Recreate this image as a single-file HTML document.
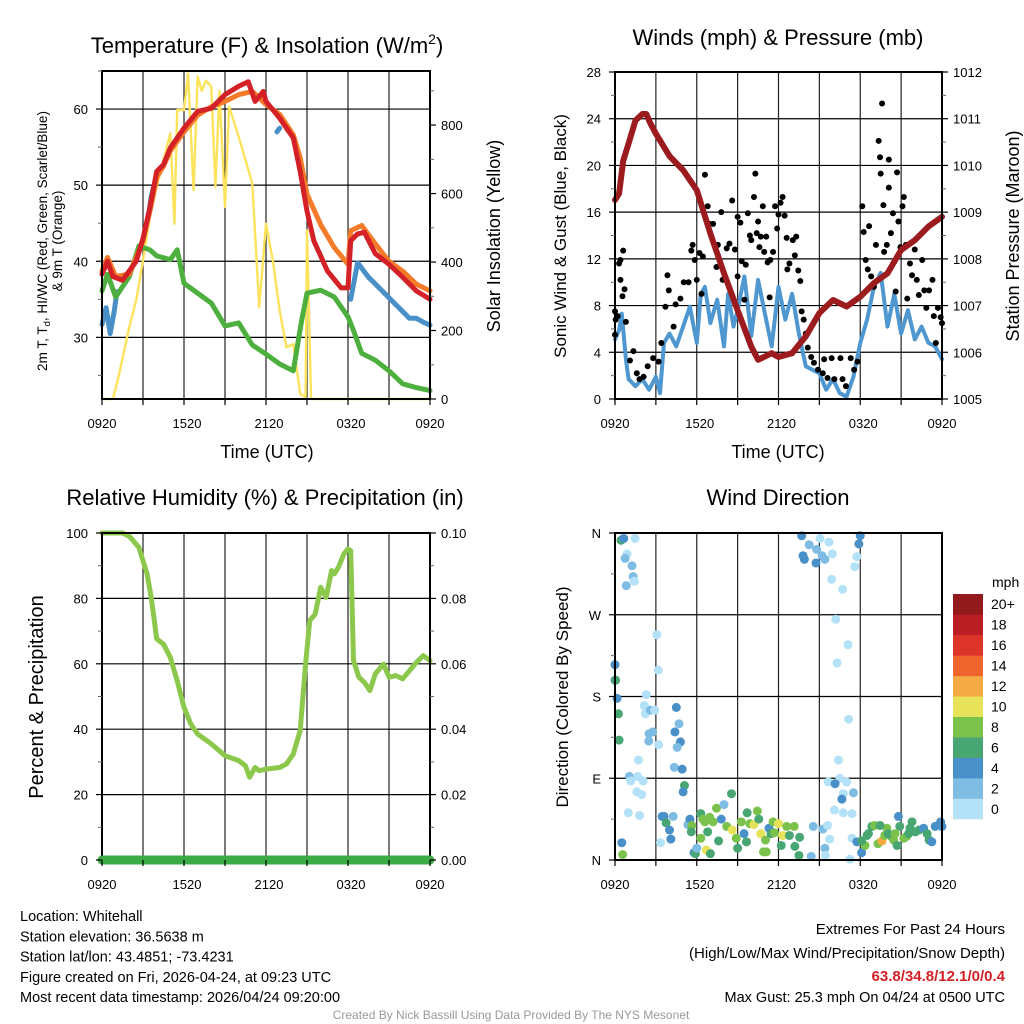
<!DOCTYPE html>
<html><head><meta charset="utf-8"><style>
html,body{margin:0;padding:0;background:#fff;}
svg{display:block;font-family:"Liberation Sans",Arial,sans-serif;}
</style></head><body>
<svg id="c" width="1024" height="1024" viewBox="0 0 1024 1024" xmlns="http://www.w3.org/2000/svg"></svg>
<script>
// ---------- DATA (hours after 0920 UTC) ----------
const tempRedH=[0,0.4,0.8,1.5,2.5,3,3.5,4,4.5,5,6,7,8,9,10,10.7,11.2,11.8,12,13,14,14.5,15,15.5,16.5,17.5,18,18.2,18.7,19.2,20,21,22,23,24];
const tempRedV=[38.3,40,38,37.5,40,43,47,51.8,52.7,54.9,57.5,59.7,60.1,61.9,63,63.6,61,62.3,61,58.8,56.2,51.8,46.6,42.7,38.7,36.5,36.5,42.7,43.6,43.8,41,39.6,37.9,36.1,35];
const tempOrH=[0,0.4,1,2,3,3.5,4,4.5,5,6,7,8,9,10,11,12,13,14,14.5,15,16,17,18,18.2,19,20,21,22,23,24];
const tempOrV=[38.7,40.5,38,38.3,42.7,46.5,51,52.5,54.5,57,59.2,60.3,61,61.9,62.3,60.6,59.3,56.6,53.6,48.8,44.8,41.8,39.6,44,44.7,42.3,40,38.7,37,36.1];
const tempBlH1=[0,0.3,0.6,0.9,1.1];
const tempBlV1=[31.7,33.9,30.5,33.5,36];
const tempBlH2=[3.4,3.6,3.8];
const tempBlV2=[46,48.5,50];
const tempBlH3=[12.8,13];
const tempBlV3=[57,57.5];
const tempBlH4=[18.2,18.7,19.5,20.5,21.5,22.5,23,23.5,24];
const tempBlV4=[35,39.8,37.9,36.1,34.3,32.5,32.5,32,31.6];
const dewH=[0,0.4,1,2,2.7,3.5,4,5,5.5,6,7,8,9,10,11,12,13,14,14.6,15,16,17,18,18.4,19,20,21,22,23,24];
const dewV=[36.1,38.3,35.3,38,42,41.5,40.7,40.2,41.5,37.1,35.8,34.5,31.5,31.9,29,27.8,26.5,25.6,32.1,35.8,36.2,35.3,32.7,30.9,27.9,27,25.6,23.9,23.4,23];
const solH=[0,0.8,1.2,2,2.5,3,3.5,4,4.5,5,5.3,5.5,6,6.3,6.7,7,7.3,7.6,8,8.3,8.6,9,9.3,10,10.5,11,11.5,12,12.5,13,13.5,14,14.5,14.9,15,15.3,24];
const solV=[0,0,63,210,288,405,532,620,698,776,512,844,844,951,610,942,900,930,912,620,900,561,854,766,698,629,268,512,405,258,151,161,15,5,492,0,0];
// winds & pressure
const presH=[0,0.3,0.6,1,1.5,2,2.3,2.6,3,4,5,6,7,8,9,10,10.5,11.5,12,13,14,15,16,17,18,19,20,21,22,23,24];
const presV=[1009.26,1009.4,1010.1,1010.47,1010.96,1011.1,1011.1,1010.9,1010.68,1010.2,1009.9,1009.47,1008.54,1007.69,1006.9,1006.12,1005.84,1005.98,1005.9,1005.98,1006.34,1006.84,1007.12,1006.98,1007.19,1007.48,1007.69,1008.19,1008.4,1008.69,1008.9];
const windH=[0,0.3,0.5,0.8,1,1.5,2,2.5,3,3.3,3.6,4,4.5,5,5.5,6,6.3,6.6,7,7.5,8,8.3,8.7,9,9.5,10,10.5,11,11.5,12,12.5,13,13.5,14,15,15.5,16,16.5,17,17.5,18,18.5,19,19.5,20,20.5,21,21.5,22,22.5,23,23.5,24];
const windV=[5.1,5.9,7.3,3.4,1.7,1.1,1.7,0.8,1.9,0.5,4.8,5.6,4.5,6.2,7.9,4.8,9,9.6,6.5,8.5,4.5,9,6.2,7.6,10.5,5.4,10.2,7.3,4.5,9.6,6.8,9,5.6,2.8,2.2,0.8,1.7,0.5,0.2,1.9,4.8,6.8,9.6,10.8,6.2,9,5.6,7.6,5.1,6.2,4.8,4.5,3.4];
const gustH=[0,0.05,0.2,0.6,0.4,0.3,0.4,0.7,0.55,0.8,0,1.1,1.35,1.6,1.8,2.1,2.4,2.8,3.2,3.4,3.7,3.85,3.95,4.3,4.45,4.8,5.05,5.4,5.6,5.7,5.85,6,6.2,6.35,6.45,6.6,6.8,6.95,7.2,7.45,7.55,7.8,7.9,8.2,8.4,8.6,8.8,9,9,9.2,9.3,9.5,9.6,9.75,9.9,10,10.2,10.3,10.4,10.5,10.6,10.7,10.85,10.95,11.1,11.2,11.35,11.4,11.6,11.75,11.9,12,12.15,12.3,12.45,12.6,12.65,12.8,13.05,13.2,13.3,13.45,13.6,13.7,13.85,14,14.15,14.4,14.6,14.9,15.25,15.35,15.6,15.9,16.1,16.55,16.7,16.95,17.3,17.55,17.8,18.15,18.25,18.4,18.55,18.65,18.8,19,19.15,19.35,19.45,19.5,19.6,19.7,19.75,19.95,20.1,20.1,20.25,20.4,20.6,20.7,20.8,20.95,21.1,21.2,21.35,21.45,21.65,21.8,22,22.15,22.3,22.55,22.7,22.85,23.05,23.3,23.4,23.55,23.7,23.9,24];
const gustV=[7.5,6.8,7.1,12.7,11.9,11.6,10.2,9.4,8.8,6.6,5.5,3.3,4.1,2.2,1.7,1.9,2.8,3.5,3.2,4.8,7.9,10.6,9.3,6.2,8.1,8.6,10,10,12.7,13.2,11.9,10.2,12.5,9,12.2,19.2,16.5,15,15,11.3,13.2,16,10.2,12.9,13.3,17,12.8,15.6,10.5,15.1,11.8,8.5,11.5,15.9,14,13.6,17.3,19.3,14.2,15.2,13,13.9,16.5,12.6,13.9,11.7,8.7,11.9,12.6,16.5,14.6,15.8,16.8,17.3,15.7,13.8,11.1,11.6,13.6,12.3,13.9,11,10.1,7.5,6.8,5.6,4.4,3.6,3.1,2.5,2.2,3.4,1.8,3.5,1.7,3.5,1.7,1.1,3.5,2.5,3.2,16.5,14.3,11.9,11.1,14.8,10.5,9.6,13.2,22.1,20.7,19.3,25.3,16.6,12.6,13.2,20.5,18.1,14.2,15.9,9.2,19.4,15.2,13,16.5,17.3,13.2,8.6,11.6,10.6,12.8,10.2,8.9,11.9,9.3,7.8,9.3,10.2,7.1,4.8,7.8,7,6.5];
// RH & precip
const rhH=[0,1.5,2,2.7,3,3.3,3.6,3.8,4,4.5,5,5.5,6,6.5,7,8,9,10,10.5,10.8,11.2,11.5,12,13,13.5,14,14.5,14.9,15.2,15.6,16,16.4,16.8,17,17.3,17.7,18,18.2,18.4,18.8,19.2,19.6,20,20.6,21,21.5,22,22.5,23,23.5,24];
const rhV=[100,100,99,95.6,91.5,87.5,80.3,74.2,67.6,66,62,54.8,46.7,41.6,38.5,35.5,31.9,30.4,28.8,25.3,28.3,27.3,27.8,28.3,29.4,32.4,39.6,59.9,73.2,75.2,83.4,80.3,88.5,87.5,89.5,93.6,95.1,94.6,61,55.9,54.3,51.8,56.9,59.9,55.9,56.4,55.4,57.9,60.4,62.5,61];
const precipH=[0,24];
const precipV=[0,0];
// wind direction
const dirH=[0.44,0.64,1.47,0.88,0.74,1.25,1.33,1.42,0.83,3.07,3.17,0,0,0.05,0.15,0.25,0.3,2.3,2.15,2.23,2.6,2.92,2.77,2.5,2.48,3.2,4.5,4.7,4.4,4.8,4.56,1.72,4.35,4.93,1.05,1.15,1.66,2.06,1.6,1.96,0.98,1.8,5.1,5,0.5,0.56,3.34,3.46,3.6,3.75,4,4.1,4.27,5.35,5.5,5.64,5.6,5.8,5.9,6,6.3,6.45,6.6,6.95,7.2,7.45,7.8,8,6.8,6.3,6.7,7,7.6,8.2,8.55,8.6,8.9,9,9.27,9.47,9.65,9.7,9.9,10.2,10.45,10.55,10.7,10.9,11.1,11.05,11.3,11.45,11.6,11.7,12,12.3,12.2,12.6,12.8,13.15,13.2,13.5,13.55,14.4,14.55,15.25,15.4,15.6,15.75,15.45,17.25,13.7,14.25,13.8,13.9,14.75,15.05,15.7,14.8,15.2,15.4,15.95,18,17.9,17.75,17.6,15.9,16.7,16.2,17.1,16.3,17.15,16.4,15.65,16.5,17,16.15,16.75,17.5,16.65,16.1,16.75,17.4,17.4,17.75,18.1,18.35,18.5,18.85,19.05,19.3,19.6,19.8,19.95,20.3,20.45,20.7,20.8,20.9,21.2,21.4,21.65,21.8,22.05,22.3,22.65,22.9,23.05,23.25,23.5,23.9,24,18.1,18.6,19.45,20.05,20.55,21.55];
const dirV=[352,354,354,337,332,324,312,307,302,248,209,215,198,198,178,161,132,182,170,161,165,165,141,139,131,127,168,150,141,130,124,110,102,100,92,87,92,87,75,72,52,49,82,75,19,6,19,48,48,41,33,23,48,39,45,38,31,8,7,13,51,45,42,47,42,57,45,61,31,24,11,7,21,37,73,33,24,13,42,29,20,52,40,39,54,45,29,9,9,22,35,29,42,30,40,27,16,37,27,37,15,5,25,4,37,34,13,38,23,5,1,357,347,335,331,327,354,350,342,335,331,337,357,348,334,323,309,298,265,237,217,155,110,86,90,86,84,73,74,67,55,52,51,24,20,8,16,27,37,38,18,21,27,35,26,22,16,48,37,24,26,35,42,31,33,35,29,22,20,37,42,37,21,29,38,29,29,29];
const dirS=[6,4,1,1,3,3,3,1,3,1,1,4,5,6,4,6,6,1,1,1,3,1,3,3,3,1,4,3,4,5,3,1,3,4,3,1,1,1,1,1,1,1,6,4,4,8,1,4,4,6,4,4,3,3,4,8,6,4,6,3,6,8,8,8,8,8,4,3,6,8,10,6,6,8,6,10,8,6,8,4,6,6,8,10,8,6,10,8,8,8,4,6,8,8,10,10,6,8,6,8,6,6,6,3,3,3,3,1,1,1,1,4,3,4,4,4,1,1,3,3,3,1,4,4,1,1,1,1,1,1,1,1,1,1,1,1,4,1,3,4,1,1,1,1,4,4,8,6,6,8,8,12,8,8,6,8,6,4,6,8,8,6,6,6,6,4,6,6,4,4,4,4,6,6,6,6,8,6];
const cbarLabels=["0","2","4","6","8","10","12","14","16","18","20+"];
const cbarColors=["#b3e1f7","#7fbce4","#4a90c8","#48a672","#7bc24c","#e6e25a","#f6aa45","#ef632d","#dd3429","#bb1e25","#921a1c"];

// ---------- helpers ----------
const NS="http://www.w3.org/2000/svg";
const svg=document.getElementById('c');
function mk(tag,attrs,parent){const e=document.createElementNS(NS,tag);for(const k in attrs)e.setAttribute(k,attrs[k]);(parent||svg).appendChild(e);return e;}
function txt(x,y,s,size,anchor,extra,name){const t=mk('text',Object.assign({x:x,y:y,'font-size':size,'text-anchor':anchor||'middle',fill:'#000'},extra||{}));t.textContent=s;


return t;}
function lin(x0,x1,d0,d1){return v=>x0+(v-d0)*(x1-x0)/(d1-d0);}

function panel(L,R,T,B,name){
  const g=mk('g',{});
  
  
  return g;
}
function grid(g,L,R,T,B,ys){
  for(let i=1;i<8;i++){const x=L+(R-L)*i/8;const l=mk('line',{x1:x,x2:x,y1:T,y2:B,stroke:'#222','stroke-width':1.2},g);
    
    }
  ys.forEach(y=>{const l=mk('line',{x1:L,x2:R,y1:y,y2:y,stroke:'#000','stroke-width':1.2},g);
    
    });
}
function frame(g,L,R,T,B){const r=mk('rect',{x:L,y:T,width:R-L,height:B-T,fill:'none',stroke:'#000','stroke-width':2},g);
  
  }
function xticks(g,L,R,B){
  const lab=["0920","1520","2120","0320","0920"];
  for(let i=0;i<=8;i++){const x=L+(R-L)*i/8;mk('line',{x1:x,x2:x,y1:B,y2:B+6,stroke:'#000','stroke-width':1.2},g);}
  lab.forEach((s,i)=>{txt(L+(R-L)*i/4+(i>0&&i<4?3:0),B+29,s,13,'middle',{},'x-tick-label');});
}
function yticks(g,x,ys,labs,side,minor){
  ys.forEach((y,i)=>{mk('line',{x1:x,x2:x+(side<0?-6:6),y1:y,y2:y,stroke:'#000','stroke-width':1.2},g);
    txt(side<0?x-14:x+11,y+5,labs[i],13,side<0?'end':'start',{},side<0?'y-tick-label-left':'y-tick-label-right');});
  (minor||[]).forEach(y=>{mk('line',{x1:x,x2:x+(side<0?-4:4),y1:y,y2:y,stroke:'#666','stroke-width':1},g);});
}
function path(g,H,V,sx,sy,color,w,name){
  let d='';H.forEach((h,i)=>{d+=(i?'L':'M')+sx(h).toFixed(1)+' '+sy(V[i]).toFixed(1);});
  const p=mk('path',{d:d,fill:'none',stroke:color,'stroke-width':w,'stroke-linejoin':'round','stroke-linecap':'round'},g);
  
  
  return p;
}

// ---------- Panel 1 ----------
(function(){
  const L=102,R=430,T=71,B=399;
  const g=panel(L,R,T,B,'temperature-panel');
  const sx=lin(L,R,0,24), sy=lin(B,T,21.9,65.0), sr=lin(B,T,0,958);
  grid(g,L,R,T,B,[30,40,50,60].map(sy));
  path(g,solH,solV,sx,sr,'#fde35c',2.4,'insolation-line');
  path(g,tempBlH1,tempBlV1,sx,sy,'#4a90c8',5,'wind-chill-line-1');
  path(g,tempBlH2,tempBlV2,sx,sy,'#4a90c8',5,'wind-chill-line-2');
  path(g,tempBlH3,tempBlV3,sx,sy,'#4a90c8',5,'wind-chill-line-3');
  path(g,tempBlH4,tempBlV4,sx,sy,'#4a90c8',5,'wind-chill-line-4');
  path(g,dewH,dewV,sx,sy,'#4daf3e',5,'dewpoint-line');
  path(g,tempOrH,tempOrV,sx,sy,'#f47b29',5,'9m-temperature-line');
  path(g,tempRedH,tempRedV,sx,sy,'#d42027',5,'2m-temperature-line');
  frame(g,L,R,T,B);
  xticks(g,L,R,B);
  yticks(g,L,[30,40,50,60].map(sy),["30","40","50","60"],-1,[25,35,45,55,65].map(sy));
  yticks(g,R,[0,200,400,600,800].map(sr),["0","200","400","600","800"],1,[100,300,500,700,900].map(sr));
  const t=txt(267,53,'Temperature (F) & Insolation (W/m',22,'middle',{},'temperature-title');
  const ts=mk('tspan',{'font-size':14,dy:-9},t);ts.textContent='2';
  const ts2=mk('tspan',{dy:9},t);ts2.textContent=')';
  txt(267,458,'Time (UTC)',18,'middle',{},'x-axis-title');
  const a=mk('text',{x:0,y:0,'font-size':13.5,'text-anchor':'middle',transform:'translate(47,241) rotate(-90)'});
  
  
  a.innerHTML='2m T, T<tspan font-size="9.5" dy="3">d</tspan><tspan dy="-3">, HI/WC (Red, Green, Scarlet/Blue)</tspan>';
  txt(0,0,'& 9m T (Orange)',13.5,'middle',{transform:'translate(62,241) rotate(-90)'},'temperature-y-axis-title-line2');
  txt(0,0,'Solar Insolation (Yellow)',18,'middle',{transform:'translate(500,236) rotate(-90)'},'insolation-y-axis-title');
})();

// ---------- Panel 2 ----------
(function(){
  const L=615,R=942,T=72,B=399;
  const g=panel(L,R,T,B,'winds-panel');
  const sx=lin(L,R,0,24), sy=lin(B,T,0,28), sp=lin(B,T,1005,1012);
  const wt=[4,8,12,16,20,24];
  grid(g,L,R,T,B,wt.map(sy));
  path(g,windH,windV,sx,sy,'#4f97d0',4,'sonic-wind-line');
  gustH.forEach((h,i)=>{const c=mk('circle',{cx:sx(h),cy:sy(gustV[i]),r:3,fill:'#000'},g);
    
    });
  path(g,presH,presV,sx,sp,'#9b1b1e',6,'pressure-line');
  frame(g,L,R,T,B);
  xticks(g,L,R,B);
  yticks(g,L,[0,4,8,12,16,20,24,28].map(sy),["0","4","8","12","16","20","24","28"],-1,[2,6,10,14,18,22,26].map(sy));
  const pt=[1005,1006,1007,1008,1009,1010,1011,1012];
  yticks(g,R,pt.map(sp),pt.map(String),1,[1005.5,1006.5,1007.5,1008.5,1009.5,1010.5,1011.5].map(sp));
  txt(778,45,'Winds (mph) & Pressure (mb)',22,'middle',{},'winds-title');
  txt(778,458,'Time (UTC)',18,'middle',{},'x-axis-title');
  txt(0,0,'Sonic Wind & Gust (Blue, Black)',17,'middle',{transform:'translate(566,236) rotate(-90)'},'wind-y-axis-title');
  txt(0,0,'Station Pressure (Maroon)',18,'middle',{transform:'translate(1019,236) rotate(-90)'},'pressure-y-axis-title');
})();

// ---------- Panel 3 ----------
(function(){
  const L=102,R=430,T=533,B=860;
  const g=panel(L,R,T,B,'humidity-panel');
  const sx=lin(L,R,0,24), sy=lin(B,T,0,100), sp=lin(B,T,0,0.1);
  grid(g,L,R,T,B,[20,40,60,80].map(sy));
  path(g,rhH,rhV,sx,sy,'#8cc84b',5,'relative-humidity-line');
  frame(g,L,R,T,B);
  path(g,precipH,precipV,sx,sp,'#3dab45',9,'precipitation-line');
  xticks(g,L,R,B);
  yticks(g,L,[0,20,40,60,80,100].map(sy),["0","20","40","60","80","100"],-1,[10,30,50,70,90].map(sy));
  yticks(g,R,[0,0.02,0.04,0.06,0.08,0.1].map(sp),["0.00","0.02","0.04","0.06","0.08","0.10"],1,[0.01,0.03,0.05,0.07,0.09].map(sp));
  txt(265,505,'Relative Humidity (%) & Precipitation (in)',22,'middle',{},'humidity-title');
  txt(0,0,'Percent & Precipitation',20,'middle',{transform:'translate(43,697) rotate(-90)'},'humidity-y-axis-title');
})();

// ---------- Panel 4 ----------
(function(){
  const L=615,R=942,T=533,B=860;
  const g=panel(L,R,T,B,'wind-direction-panel');
  const sx=lin(L,R,0,24), sy=lin(B,T,0,360);
  grid(g,L,R,T,B,[90,180,270].map(sy));
  const sc=s=>cbarColors[Math.min(10,Math.floor(s/2))];
  dirH.forEach((h,i)=>{const c=mk('circle',{cx:sx(h),cy:sy(dirV[i]),r:4.5,fill:sc(dirS[i])},g);
    
    });
  frame(g,L,R,T,B);
  xticks(g,L,R,B);
  yticks(g,L,[0,90,180,270,360].map(sy),["N","E","S","W","N"],-1,[45,135,225,315].map(sy));
  txt(778,505,'Wind Direction',22,'middle',{},'wind-direction-title');
  txt(0,0,'Direction (Colored By Speed)',17,'middle',{transform:'translate(568,697) rotate(-90)'},'direction-y-axis-title');
  const cy0=819, ch=(819-594)/11;
  cbarColors.forEach((c,i)=>{const r=mk('rect',{x:953,y:cy0-(i+1)*ch,width:30,height:ch+0.3,fill:c},g);
    
    
    txt(991,cy0-i*ch-ch/2+5,cbarLabels[i],14,'start',{},'colorbar-label');});
  txt(992,587,'mph',14,'start',{},'colorbar-title');
})();

// ---------- Footer ----------
const lft=["Location: Whitehall","Station elevation: 36.5638 m","Station lat/lon: 43.4851; -73.4231","Figure created on Fri, 2026-04-24, at 09:23 UTC","Most recent data timestamp: 2026/04/24 09:20:00"];
lft.forEach((s,i)=>txt(20,921+i*20.3,s,14.5,'start',{},'station-info-line'));
txt(1005,934,'Extremes For Past 24 Hours',15,'end',{},'extremes-title');
txt(1005,958,'(High/Low/Max Wind/Precipitation/Snow Depth)',15,'end',{},'extremes-subtitle');
txt(1005,981,'63.8/34.8/12.1/0/0.4',15,'end',{fill:'#d42027','font-weight':'bold'},'extremes-values');
txt(1005,1002,'Max Gust: 25.3 mph On 04/24 at 0500 UTC',14.5,'end',{},'max-gust');
txt(511,1019,'Created By Nick Bassill Using Data Provided By The NYS Mesonet',12,'middle',{fill:'#999'},'credit');
</script>
</body></html>
